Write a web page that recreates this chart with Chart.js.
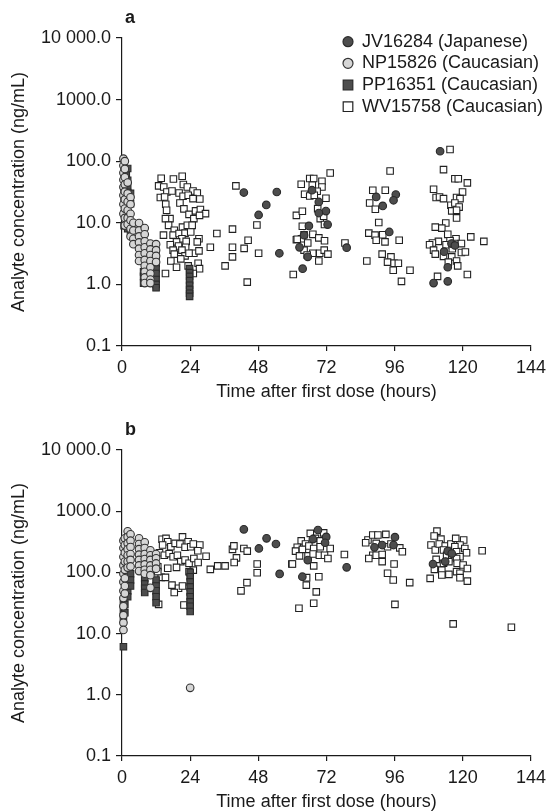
<!DOCTYPE html>
<html>
<head>
<meta charset="utf-8">
<script src="https://cdn.jsdelivr.net/npm/chart.js@4.4.1/dist/chart.umd.min.js"></script>
<style>
html, body { margin: 0; padding: 0; background: #fff; }
canvas { display: block; }
</style>
</head>
<body>
<canvas id="chartA" width="552" height="402"></canvas>
<canvas id="chartB" width="552" height="409"></canvas>
<script>
// ================= DATA =================

const seriesLabels = ["JV16284 (Japanese)", "NP15826 (Caucasian)", "PP16351 (Caucasian)", "WV15758 (Caucasian)"];
const xTicks = [0, 24, 48, 72, 96, 120, 144];
const yTickValues = [0.1, 1, 10, 100, 1000, 10000];
const yTickLabels = ["0.1", "1.0", "10.0", "100.0", "1000.0", "10 000.0"];
const xTitle = "Time after first dose (hours)";
const yTitle = "Analyte concentration (ng/mL)";

// panel a  [hours, ng/mL]
const jvA = [[42.9,31],[54.5,31.6],[50.8,19.5],[48.1,13.4],[55.4,3.2],[66.9,33.8],[69.3,21.8],[71.8,15.5],[69.3,14.4],
  [72.4,9.35],[65.8,8.9],[64.1,6.3],[62.5,4.0],[65.4,2.8],[63.6,1.8],[79.1,3.95],[89.5,26.3],[96.4,28.8],[95.6,23.2],
  [91.8,18.8],[94.1,7.1],[112,145],[114.7,1.12],[109.7,1.05],[114.7,1.9],[116,4.6],[117.2,4.3],[113.4,3.4]];

const npA = [[0.5,110],[0.5,85],[0.5,65],[0.5,50],[0.5,38],[0.5,28],[0.5,20],[0.5,14],
  [1,100],[1,75],[1,55],[1,42],[1,32],[1,24],[1,17],[1,12],[1,9],
  [2,45],[2,30],[2,22],[2,16],[2,12],[2,9.5],
  [3,26],[3,20],[3,14],[3,11],[3,8],[3,6],
  [4,10],[4,7.5],[4,5.5],[4,4.5],
  [6,9.9],[6,7.5],[6,6],[6,4.8],[6,3.8],[6,3],[6,2.4],
  [8,8.2],[8,6.5],[8,5],[8,4],[8,3.2],[8,2.5],[8,2],[8,1.6],[8,1.3],[8,1.05],
  [10,4.6],[10,3.7],[10,3],[10,2.4],[10,1.9],[10,1.5],[10,1.2],[10,1.05],
  [12,4.5],[12,3.6],[12,2.9],[12,2.3]];

const ppA = [[0.75,80],[0.75,55],[0.75,35],[0.75,22],[0.75,14],[0.75,9],
  [1.5,60],[1.5,25],[1.5,16],
  [2,76],[2,49],[2,38],[2,31],[2,12.4],[2,10.3],[2,8],
  [3,30],[3,20.5],[3,7.1],
  [7.6,1.6],[7.6,1.35],[7.6,1.05],
  [12,3.5],[12,2.8],[12,2.2],[12,1.8],[12,1.5],[12,1.2],[12,1.0],[12,0.88],
  [23.8,1.8],[23.8,1.55],[23.8,1.35],[23.8,1.15],[23.8,0.97],[23.8,0.83],[23.8,0.72],[23.8,0.64]];

const wvA = [[13.8,53],[18.1,51.5],[21.2,57],[12.9,39.7],[14.7,38.2],[15.8,31.7],[17.6,32.9],[13.5,25.7],[15.0,26.3],
  [20.1,30.5],[21.6,41.8],[23.0,38.2],[25.0,32.9],[26.5,30.5],[21.5,27],[23.3,28],[25.0,24.7],[27.4,24.4],[15.4,20],
  [20.4,21],[15.7,16],[21.8,16.8],[23.6,13.7],[25.9,15.6],[27.6,16.4],[29.4,14.1],[16.9,11.7],[15.3,11.7],[25.3,11.7],
  [27.3,13.2],[16.4,9.1],[21.3,8.5],[23.0,9.1],[24.7,9.1],[18.4,7.55],[14.6,6.3],[18.0,6.3],[20.1,6.7],[22.2,6.8],
  [24.2,7.1],[27.1,5.5],[21.1,5.5],[19.2,4.9],[22.6,5.0],[26.5,4.9],[17.0,4.4],[19.9,4.2],[22.4,4.0],[18.0,3.6],
  [21.1,3.6],[25.3,3.2],[27.1,3.5],[18.4,3.1],[22.2,2.9],[23.6,3.2],[17.2,2.4],[20.7,2.6],[19.2,1.9],[23.3,2.0],
  [26.8,2.2],[27.3,1.8],[25.1,1.5],[15.3,1.5],
  [33.4,6.7],[31.1,4.0],[36.3,2.0],[38.9,7.9],[38.9,4.0],[38.9,2.8],[40.1,39.7],[44.4,5.2],[43.0,3.85],[47.5,9.2],
  [48.1,3.2],[44.1,1.09],[61.4,13.2],[61.4,5.3],[60.3,1.45],
  [73.3,64.5],[66.1,52.3],[67.5,52.3],[63.1,42.3],[70.4,47.3],[67.0,40.7],[70.4,38.2],[68.7,32.5],[64.3,29],[66.1,27.3],
  [67.7,28],[71.8,25],[68.9,17],[69.8,11.7],[71.0,12.8],[63.5,15.4],[71.3,9.4],[63.5,8.8],[64.1,6.4],[67.2,6.5],
  [63.2,5.5],[69.3,5.7],[61.7,5.4],[65.4,4.7],[71.3,5.1],[64.1,3.6],[67.2,3.2],[65.2,3.0],[69.6,3.2],[71.2,3.6],
  [72.5,3.1],[69.3,2.4],[78.5,4.7],
  [94.4,69.5],[88.3,33.8],[87.2,21],[92.7,33.8],[89.2,16.6],[90.4,10.1],[86.9,6.8],[89.1,6.3],[89.5,5.2],[91.8,6.4],
  [92.6,4.9],[97.6,5.2],[91.6,3.1],[86.2,2.4],[94.7,2.8],[93.5,2.3],[95.8,2.2],[97.3,2.2],[95.5,1.7],[101.4,1.7],[98.4,1.12],
  [115.5,155],[113.2,73],[117.2,52],[118.4,52],[121.6,44.4],[109.7,35],[119.9,31.6],[110.6,25.7],[111.8,26.3],[113.2,24.7],
  [117.8,25.7],[119.0,24.7],[115.8,19.3],[117.2,21],[118.7,18],[116.1,15.6],[117.8,16],[117.8,12],[114.0,9.9],[112.6,8.2],
  [110.3,8.5],[114.7,6.5],[117.6,5.5],[122.8,5.9],[127.4,5.0],[115.5,5.1],[114.1,4.4],[117.2,4.6],[119.5,4.6],[111.4,5.0],
  [109.3,4.7],[108.3,4.4],[109.7,3.6],[110.3,3.1],[113.2,2.85],[116.3,3.8],[119.5,3.3],[120.9,3.35],[116.1,2.8],[114.9,2.3],
  [117.8,2.4],[118.2,2.0],[121.6,1.45],[111.1,1.35]];

// panel b  [hours, ng/mL]
const jvB = [[42.9,506],[50.9,360],[48.2,246],[54.2,291],[55.5,94.5],[69.0,493],[67.2,350],[71.9,380],[71.5,305],
  [65.4,159],[63.5,85],[79.1,121],[96.1,377],[88.9,257],[91.6,280],[95.6,280],[109.5,137],[114.7,223],[116.1,203],[113.8,150]];

const npB = [[0.5,330],[0.5,250],[0.5,180],[0.5,130],[0.5,95],[0.5,70],[0.5,50],[0.5,38],[0.5,28],[0.5,20],[0.5,15],[0.5,11.5],
  [1,360],[1,280],[1,210],[1,150],[1,110],[1,80],[1,60],[1,45],
  [2,470],[2,380],[2,300],[2,240],[2,190],[2,150],[2,120],
  [3,420],[3,330],[3,260],[3,200],[3,160],[3,125],
  [6,360],[6,290],[6,240],[6,195],[6,160],[6,130],[6,105],
  [8,310],[8,250],[8,200],[8,165],[8,135],[8,110],[8,95],
  [10,230],[10,190],[10,160],[10,130],[10,110],[10,90],[10,56],
  [12,200],[12,170],[12,140],[12,115],
  [24,1.3]];

const ppB = [[0.5,6.1],[0.5,17],[0.5,24],[0.5,32],
  [1,120],[1,90],[1,70],[1,52],[1,40],[1,30],[1,22],
  [2,110],[2,85],[2,65],[2,50],[2,40],
  [3,95],[3,75],[3,60],
  [8,80],[8,65],[8,55],[8,47],
  [12,75],[12,60],[12,50],[12,40],[12,32],
  [24,100],[24,85],[24,70],[24,58],[24,48],[24,40],[24,33],[24,28],[24,23]];

const wvB = [[14.1,349],[15.5,360],[16.1,317],[14.3,280],[17.2,262],[18.7,298],[21.3,380],[23.3,317],[20.4,291],[22.2,257],
  [24.2,262],[25.1,291],[27.4,280],[26.7,226],[29.6,184],[13.2,210],[14.9,191],[16.6,203],[18.0,180],[19.5,191],
  [20.7,150],[22.2,159],[23.6,141],[25.3,169],[26.8,145],[25.1,109],[23.6,103],[19.2,121],[16.1,117],[12.6,124],
  [13.8,83],[15.3,83],[12.6,103],[12.9,30],[17.6,62],[19.9,55],[21.3,60],[18.4,47],[21.8,29.3],
  [31.1,112],[33.7,128],[36.3,128],[38.9,238],[39.4,271],[40.3,173],[39.5,145],[42.9,246],[44.1,223],[47.6,137],
  [47.6,98.5],[44.0,68],[41.9,50],[59.8,137],[61.4,223],
  [66.3,434],[71.0,443],[63.1,328],[64.6,291],[68.1,360],[69.8,328],[61.7,257],[63.5,238],[65.8,270],[67.5,246],
  [69.8,262],[73.3,246],[61.1,223],[62.5,186],[65.5,186],[67.3,200],[69.5,191],[71.3,191],[72.5,169],[60.0,137],
  [67.5,128],[69.3,85],[65.0,82],[64.9,62],[68.4,48],[67.5,31.4],[62.3,26],[78.3,196],
  [86.6,338],[88.3,408],[90.1,408],[92.9,418],[85.8,305],[89.5,298],[93.5,262],[94.7,291],[97.8,252],[98.7,218],
  [88.3,191],[89.5,191],[91.6,196],[91.6,150],[86.9,169],[95.8,137],[93.5,97],[95.5,75],[101.3,68],[96.1,30],
  [110.9,473],[109.9,394],[112.3,350],[108.8,280],[110.3,232],[111.7,291],[113.8,270],[115.8,291],[117.5,360],[120.3,338],
  [119.0,280],[117.2,262],[120.7,246],[113.2,232],[114.9,218],[117.8,218],[121.3,210],[114.3,191],[116.1,180],[119.0,180],
  [117.8,169],[110.6,163],[113.2,141],[115.1,150],[118.0,141],[120.1,132],[121.6,116],[110.0,112],[112.6,109],[112.6,90.5],
  [115.1,93],[117.8,103],[119.0,97],[119.0,82],[121.6,72],[108.5,80],[126.8,226],[116.6,14.4],[137.1,12.7]];

// ================= CHART ENGINE =================

const inkColor = "#1a1a1a";
const fontFamily = "'Liberation Sans', Arial, Helvetica, sans-serif";

const markerStyles = [
    {pointStyle:"circle", pointRadius:3.8, backgroundColor:"#4d4d4d", borderColor:"#2a2a2a"},
    {pointStyle:"circle", pointRadius:3.8, backgroundColor:"#d6d6d6", borderColor:"#333333"},
    {pointStyle:"rect",   pointRadius:4.6, backgroundColor:"#4d4d4d", borderColor:"#2a2a2a"},
    {pointStyle:"rect",   pointRadius:4.6, backgroundColor:"#ffffff", borderColor:"#222222"}
];

function toPoints(pairs){
    return pairs.map(p => ({x:p[0], y:p[1]}));
}

function buildDatasets(series){
    return series.map((pairs, i) => ({
        label: seriesLabels[i],
        data: toPoints(pairs),
        pointStyle: markerStyles[i].pointStyle,
        pointRadius: markerStyles[i].pointRadius,
        pointBorderWidth: 1.1,
        backgroundColor: markerStyles[i].backgroundColor,
        borderColor: markerStyles[i].borderColor,
        showLine: false,
        clip: false
    }));
}

// panel letter + optional legend
const panelDecor = {
    id: "panelDecor",
    afterDraw(chart, args, opts){
        const ctx = chart.ctx;
        const area = chart.chartArea;
        ctx.save();
        ctx.fillStyle = inkColor;
        ctx.font = "bold 18px " + fontFamily;
        ctx.textBaseline = "alphabetic";
        ctx.textAlign = "left";
        ctx.fillText(opts.letter, area.left + 3, area.top - 15);

        if(opts.legend){
            ctx.font = "18px " + fontFamily;
            ctx.textBaseline = "middle";
            const rows = [41.7, 63.3, 85, 106.7];
            chart.data.datasets.forEach((ds, i) => {
                const y = rows[i];
                const x = 348;
                ctx.fillStyle = ds.backgroundColor;
                ctx.strokeStyle = ds.borderColor;
                ctx.lineWidth = 1.2;
                ctx.beginPath();
                if(ds.pointStyle === "circle"){
                    ctx.arc(x, y, 5, 0, Math.PI * 2);
                } else {
                    ctx.rect(x - 4.8, y - 4.8, 9.6, 9.6);
                }
                ctx.fill();
                ctx.stroke();
                ctx.fillStyle = inkColor;
                ctx.fillText(ds.label, 362, y);
            });
        }
        ctx.restore();
    }
};

function makeChart(canvasId, series, letter, showLegend, topPad, xAxisHeight, titleBottomPad){
    const ctx = document.getElementById(canvasId).getContext("2d");
    const tickFont = {family: fontFamily, size: 18};
    const titleFont = {family: fontFamily, size: 18, lineHeight: 1};

    return new Chart(ctx, {
        type: "scatter",
        data: {datasets: buildDatasets(series)},
        plugins: [panelDecor],
        options: {
            animation: false,
            responsive: false,
            devicePixelRatio: 1,
            layout: {padding: {top: topPad, right: 15, bottom: 0, left: 0}},
            scales: {
                x: {
                    type: "linear",
                    min: 0,
                    max: 144,
                    afterBuildTicks: s => { s.ticks = xTicks.map(v => ({value: v})); },
                    afterFit: s => { s.height = xAxisHeight; },
                    ticks: {color: inkColor, font: tickFont, padding: 6, maxRotation: 0, autoSkip: false},
                    grid: {display: true, drawOnChartArea: false, drawTicks: true, tickLength: 5, color: inkColor, lineWidth: 1.2},
                    border: {display: true, color: inkColor, width: 1.2},
                    title: {display: true, text: xTitle, color: inkColor, font: titleFont, padding: {top: 0, bottom: titleBottomPad}}
                },
                y: {
                    type: "logarithmic",
                    min: 0.1,
                    max: 10000,
                    afterBuildTicks: s => { s.ticks = yTickValues.map(v => ({value: v})); },
                    afterFit: s => { s.width = 122; },
                    ticks: {color: inkColor, font: tickFont, padding: 5, callback: (v, i) => yTickLabels[i]},
                    grid: {display: true, drawOnChartArea: false, drawTicks: true, tickLength: 6, color: inkColor, lineWidth: 1.2},
                    border: {display: true, color: inkColor, width: 1.2},
                    title: {display: true, text: yTitle, color: inkColor, font: titleFont, padding: {top: 10, bottom: 0}}
                }
            },
            plugins: {
                legend: {display: false},
                tooltip: {enabled: false},
                panelDecor: {letter: letter, legend: showLegend}
            }
        }
    });
}

document.addEventListener("DOMContentLoaded", () => {
    makeChart("chartA", [jvA, npA, ppA, wvA], "a", true, 38, 56, 1);
    makeChart("chartB", [jvB, npB, ppB, wvB], "b", false, 48, 55, 0);
});
</script>
</body>
</html>
